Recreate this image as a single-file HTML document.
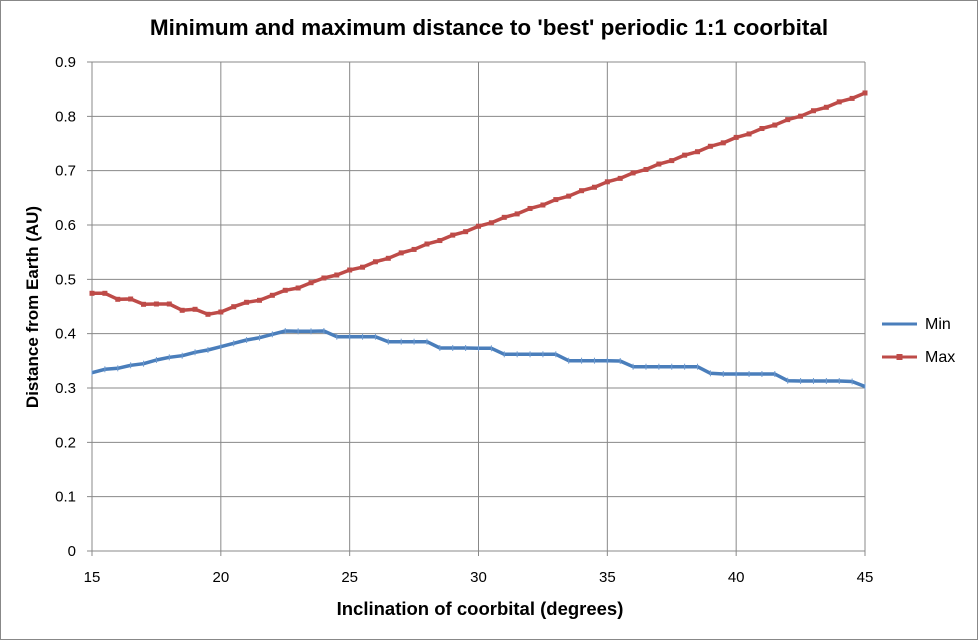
<!DOCTYPE html>
<html><head><meta charset="utf-8"><style>
html,body{margin:0;padding:0;background:#fff;}
svg{display:block;font-family:"Liberation Sans",sans-serif;}
</style></head><body>
<svg id="s" width="978" height="640" viewBox="0 0 978 640" xmlns="http://www.w3.org/2000/svg">
<rect x="0.5" y="0.5" width="977" height="639" fill="#fff" stroke="#888"/>
<g id="grid" stroke="#888" stroke-width="1"></g>
<text x="489" y="35" text-anchor="middle" font-size="22.5" font-weight="bold" fill="#000">Minimum and maximum distance to 'best' periodic 1:1 coorbital</text>
<g id="yt" font-size="15" fill="#000" text-anchor="end"></g>
<g id="xt" font-size="15" fill="#000" text-anchor="middle"></g>
<text x="480" y="615" text-anchor="middle" font-size="18.5" font-weight="bold">Inclination of coorbital (degrees)</text>
<text transform="translate(38,307) rotate(-90)" text-anchor="middle" font-size="17" font-weight="bold">Distance from Earth (AU)</text>
<g id="series"></g>
<line x1="882" y1="324" x2="917" y2="324" stroke="#4a7ebb" stroke-width="3"/>
<text x="925" y="329" font-size="16">Min</text>
<line x1="882" y1="357" x2="917" y2="357" stroke="#be4b48" stroke-width="3"/>
<rect x="896.5" y="354" width="6" height="6" fill="#be4b48"/>
<text x="925" y="362" font-size="16">Max</text>
</svg>
<script>
var NS="http://www.w3.org/2000/svg";
function el(p,t,a,txt){var e=document.createElementNS(NS,t);for(var k in a)e.setAttribute(k,a[k]);if(txt!=null)e.textContent=txt;p.appendChild(e);return e;}
var g=document.getElementById('grid'),yt=document.getElementById('yt'),xt=document.getElementById('xt'),s=document.getElementById('series');
var X0=92,X1=865,Y0=551,Y9=62;
for(var i=0;i<=9;i++){var y=Y0-(Y0-Y9)*i/9;el(g,'line',{x1:X0-5,x2:X1,y1:y,y2:y});
el(yt,'text',{x:76,y:y+5},i==0?'0':(i/10).toString());}
for(var j=0;j<=6;j++){var x=X0+(X1-X0)*j/6;el(g,'line',{x1:x,x2:x,y1:Y9,y2:Y0+5});
el(xt,'text',{x:x,y:582},(15+5*j).toString());}
var minY=[372.7,369.3,368.3,365.3,363.7,360,357.3,355.7,352.3,350,346.7,343.3,340,337.7,334.3,331,331.3,331.3,331,336.7,336.7,336.7,336.7,341.7,341.7,341.7,341.7,348,348,348,348.3,348.3,354.3,354.3,354.3,354.3,354.3,360.7,360.7,360.7,360.7,361,366.7,366.7,366.7,366.7,366.7,366.7,373.3,374,374,374,374,374,380.7,381,381,381,381,381.5,386.5];
var maxY=[293.3,293.3,299.3,299,304.3,304,304,310.3,309.3,314.3,312,306.7,302.3,300.3,295.3,290.3,288,282.7,278,275,270];
for(var k=21;k<=60;k++){var v=0.516+(0.843-0.516)*(k-20)/40;maxY.push(Y0-v*(Y0-Y9)/0.9+((k%2)?1:0));}
function pts(a){return a.map(function(y,i){return (X0+(X1-X0)*i/60).toFixed(1)+','+y;}).join(' ');}
el(s,'polyline',{points:pts(minY),fill:'none',stroke:'#4a7ebb','stroke-width':3.5,'stroke-linejoin':'round'});
el(s,'polyline',{points:pts(maxY),fill:'none',stroke:'#be4b48','stroke-width':3.5,'stroke-linejoin':'round'});
maxY.forEach(function(y,i){var x=X0+(X1-X0)*i/60;el(s,'rect',{x:x-2.5,y:y-2.5,width:5,height:5,fill:'#be4b48'});});
minY.forEach(function(y,i){var x=X0+(X1-X0)*i/60;el(s,'line',{x1:x,x2:x,y1:y-3,y2:y+3,stroke:'#6f9bd0','stroke-width':1});});
</script>
</body></html>
